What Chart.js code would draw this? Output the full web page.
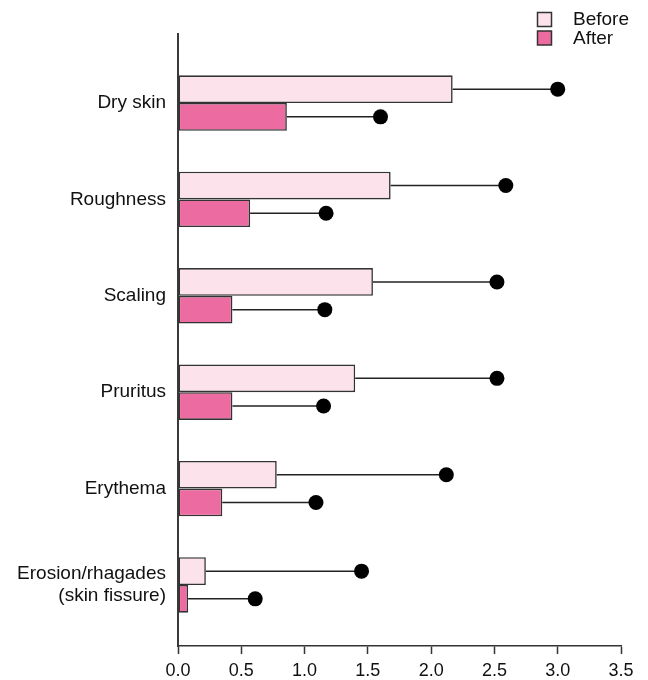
<!DOCTYPE html>
<html>
<head>
<meta charset="utf-8">
<script src="https://cdn.jsdelivr.net/npm/chart.js@4"></script>
<style>
  html, body { margin: 0; padding: 0; background: #fff; }
  #wrap { width: 648px; height: 680px; }
</style>
</head>
<body>
<div id="wrap"><canvas id="chart" width="648" height="680"></canvas></div>
<script>
// Symptom categories (top to bottom) and mean scores with their SD
const categories = ['Dry skin', 'Roughness', 'Scaling', 'Pruritus', 'Erythema', 'Erosion/rhagades\n(skin fissure)'];
const seriesNames = ['Before', 'After'];
const beforeMean = [2.17, 1.68, 1.54, 1.40, 0.78, 0.22];
const beforeSD   = [0.83, 0.91, 0.98, 1.12, 1.34, 1.23];
const afterMean  = [0.86, 0.57, 0.43, 0.43, 0.35, 0.08];
const afterSD    = [0.74, 0.60, 0.73, 0.72, 0.74, 0.53];
const xTicks = [0, 0.5, 1.0, 1.5, 2.0, 2.5, 3.0, 3.5];

const FONT = '"Liberation Sans", Arial, Helvetica, sans-serif';
const colors = ['rgb(252,227,235)', 'rgb(236,107,160)'];
const edge = '#333';
const sdSets = [beforeSD, afterSD];
const meanSets = [beforeMean, afterMean];

// One-sided SD whiskers ending in a filled dot
const sdWhiskers = {
  id: 'sdWhiskers',
  afterDatasetsDraw(chart) {
    const ctx = chart.ctx;
    const xs = chart.scales.x;
    ctx.save();
    meanSets.forEach((means, d) => {
      const meta = chart.getDatasetMeta(d);
      meta.data.forEach((bar, i) => {
        const xEnd = xs.getPixelForValue(means[i] + sdSets[d][i]);
        ctx.strokeStyle = '#222';
        ctx.lineWidth = 1.5;
        ctx.beginPath();
        ctx.moveTo(bar.x, bar.y);
        ctx.lineTo(xEnd, bar.y);
        ctx.stroke();
        ctx.fillStyle = '#000';
        ctx.beginPath();
        ctx.arc(xEnd, bar.y, 7.5, 0, Math.PI * 2);
        ctx.fill();
      });
    });
    ctx.restore();
  }
};

// Legend box in the top-right corner
const cornerLegend = {
  id: 'cornerLegend',
  afterDraw(chart) {
    const ctx = chart.ctx;
    ctx.save();
    const rows = [{ y: 12.5, c: colors[0] }, { y: 31, c: colors[1] }];
    rows.forEach((r, k) => {
      ctx.fillStyle = r.c;
      ctx.fillRect(537.5, r.y, 14, 14);
      ctx.strokeStyle = edge;
      ctx.lineWidth = 1.5;
      ctx.strokeRect(537.5, r.y, 14, 14);
      ctx.fillStyle = '#111';
      ctx.font = '19px ' + FONT;
      ctx.textBaseline = 'middle';
      ctx.textAlign = 'left';
      ctx.fillText(seriesNames[k], 573, r.y + 7.5);
    });
    ctx.restore();
  }
};

const toPoints = arr => arr.map((v, i) => ({ x: v, y: i }));

new Chart(document.getElementById('chart'), {
  type: 'bar',
  data: {
    datasets: [
      { label: seriesNames[0], data: toPoints(beforeMean), backgroundColor: colors[0], borderColor: edge, borderWidth: 1.6, borderSkipped: false },
      { label: seriesNames[1], data: toPoints(afterMean), backgroundColor: colors[1], borderColor: edge, borderWidth: 1.6, borderSkipped: false }
    ]
  },
  options: {
    indexAxis: 'y',
    responsive: false,
    devicePixelRatio: 1,
    animation: false,
    categoryPercentage: 0.575,
    barPercentage: 1.0,
    layout: { padding: { top: 34, right: 27, left: 0, bottom: 0 } },
    plugins: { legend: { display: false }, tooltip: { enabled: false } },
    scales: {
      y: {
        type: 'linear',
        reverse: true,
        offset: false,
        min: -0.716,
        max: 5.633,
        afterBuildTicks: s => { s.ticks = categories.map((_, i) => ({ value: i })); },
        afterFit: s => { s.width = 178; },
        grid: { display: false, drawTicks: false, offset: false },
        border: { display: true, color: '#3a3a3a', width: 2 },
        ticks: {
          padding: 12,
          color: '#111',
          font: { family: FONT, size: 19, lineHeight: 1.15 },
          callback: v => categories[v] ? categories[v].split('\n') : ''
        }
      },
      x: {
        type: 'linear',
        min: 0,
        max: 3.5,
        afterBuildTicks: s => { s.ticks = xTicks.map(v => ({ value: v })); },
        afterFit: s => { s.height = 34; },
        grid: { drawOnChartArea: false, drawTicks: true, tickLength: 8, tickColor: '#333', tickWidth: 1.5 },
        border: { display: true, color: '#333', width: 1.5 },
        ticks: {
          padding: 6,
          color: '#111',
          font: { family: FONT, size: 18 },
          callback: v => Number(v).toFixed(1)
        }
      }
    }
  },
  plugins: [sdWhiskers, cornerLegend]
});
</script>
</body>
</html>
